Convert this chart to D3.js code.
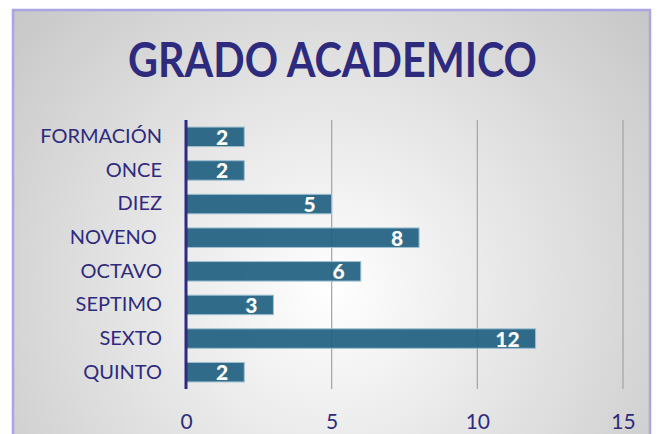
<!DOCTYPE html>
<html>
<head>
<meta charset="utf-8">
<script src="https://d3js.org/d3.v7.min.js"></script>
<style>
  html, body { margin: 0; padding: 0; background: #fff; }
  svg { display: block; }
  text { font-family: Lato, "Open Sans", sans-serif; }
</style>
</head>
<body>
<div id="chart"></div>
<script>
// data, top to bottom as shown
const categories = ['FORMACIÓN', 'ONCE', 'DIEZ', 'NOVENO ', 'OCTAVO', 'SEPTIMO', 'SEXTO', 'QUINTO'];
const values = [2, 2, 5, 8, 6, 3, 12, 2];
const ticks = [0, 5, 10, 15];
const title = 'GRADO ACADEMICO';

const W = 657, H = 434;
const navy = '#2e2a7e';

const svg = d3.select('#chart').append('svg')
  .attr('width', W)
  .attr('height', H);

// radial grey background
const grad = svg.append('defs').append('radialGradient')
  .attr('id', 'bg')
  .attr('gradientUnits', 'userSpaceOnUse')
  .attr('cx', 330).attr('cy', 290).attr('r', 460);
grad.append('stop').attr('offset', '0%').attr('stop-color', '#ffffff');
grad.append('stop').attr('offset', '100%').attr('stop-color', '#c2c2c2');

svg.append('rect')
  .attr('x', 13).attr('y', 10)
  .attr('width', 637).attr('height', 440)
  .attr('fill', 'url(#bg)')
  .attr('stroke', '#aaa5e4')
  .attr('stroke-width', 2.5);

// title squeezed to the narrow look of the original face
svg.append('text')
  .attr('x', 128).attr('y', 77)
  .attr('textLength', 409)
  .attr('lengthAdjust', 'spacingAndGlyphs')
  .attr('fill', navy)
  .attr('font-weight', 'bold')
  .attr('font-size', 48)
  .text(title);

const x = d3.scaleLinear().domain([0, 15]).range([186, 623]);
const y = d3.scaleBand().domain(categories).range([120, 389]).paddingInner(0.42).paddingOuter(0.21);

// gridlines
svg.append('g').selectAll('line')
  .data(ticks.slice(1))
  .join('line')
  .attr('x1', d => x(d)).attr('x2', d => x(d))
  .attr('y1', 120).attr('y2', 389)
  .attr('stroke', '#a3a3a8')
  .attr('stroke-width', 1.2);

// bars
svg.append('g').selectAll('rect')
  .data(values)
  .join('rect')
  .attr('x', x(0))
  .attr('y', (d, i) => y(categories[i]))
  .attr('width', d => x(d) - x(0))
  .attr('height', y.bandwidth())
  .attr('fill', '#1f5f80')
  .attr('fill-opacity', 0.92)
  .attr('stroke', '#9fc0d2')
  .attr('stroke-width', 1);

// value labels
svg.append('g').selectAll('text')
  .data(values)
  .join('text')
  .attr('x', d => x(d) - 16)
  .attr('y', (d, i) => y(categories[i]) + y.bandwidth() / 2)
  .attr('dy', '0.38em')
  .attr('text-anchor', 'end')
  .attr('fill', '#fff')
  .attr('font-weight', 900)
  .attr('font-size', 21)
  .text(d => d);

// category axis
const yAxis = svg.append('g')
  .attr('transform', `translate(${x(0)},0)`)
  .call(d3.axisLeft(y).tickSize(0).tickPadding(24));
yAxis.select('.domain')
  .attr('d', `M0,120V389`)
  .attr('stroke', navy)
  .attr('stroke-width', 3);
yAxis.selectAll('text')
  .attr('fill', navy)
  .attr('font-size', 20)
  .attr('font-family', 'Lato, sans-serif')
  .style('white-space', 'pre');

// value axis
const xAxis = svg.append('g')
  .attr('transform', 'translate(0,389)')
  .call(d3.axisBottom(x).tickValues(ticks).tickSize(0).tickPadding(25));
xAxis.select('.domain').remove();
xAxis.selectAll('text')
  .attr('fill', navy)
  .attr('font-size', 21)
  .attr('font-family', 'Lato, sans-serif');
</script>
</body>
</html>
